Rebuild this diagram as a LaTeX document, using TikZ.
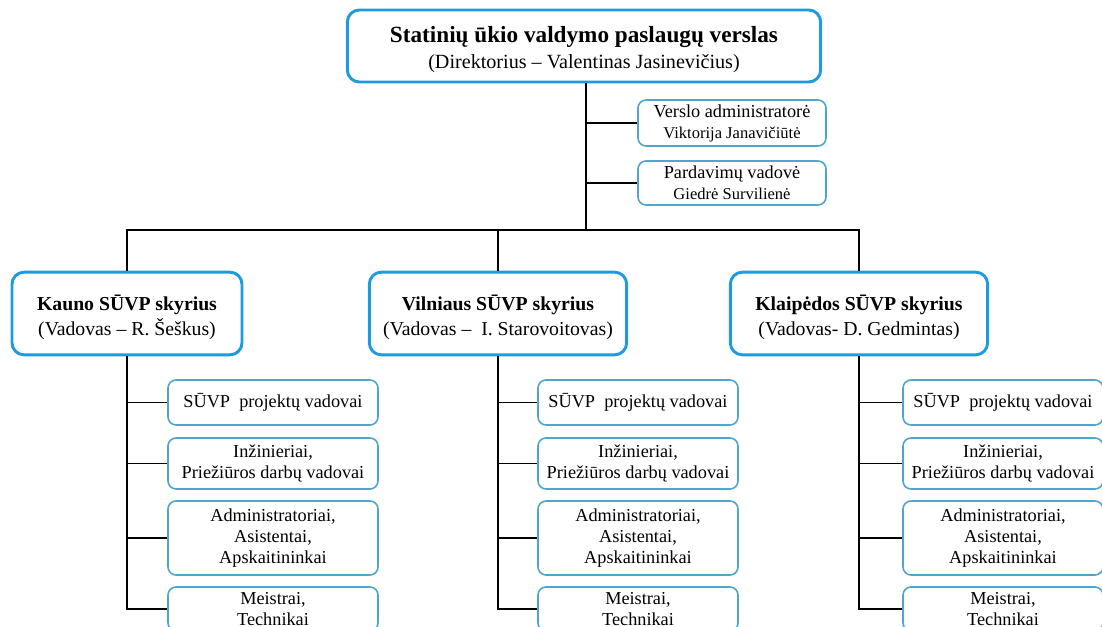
\documentclass[tikz,border=0pt]{standalone}
\usepackage{fontspec}
\setmainfont{Liberation Serif}
\definecolor{headblue}{RGB}{30,155,220}
\definecolor{unitblue}{RGB}{80,165,205}

\begin{document}
\begin{tikzpicture}[x=0.75pt,y=-0.75pt,
    headbox/.style={draw=headblue, line width=2.2pt, rounded corners=9pt,
      fill=white, align=center, inner sep=0pt},
    unitbox/.style={draw=unitblue, line width=1.2pt, rounded corners=6pt,
      fill=white, align=center, inner sep=0pt,
      font=\fontsize{13.7}{15.75}\selectfont},
    link/.style={draw=black, line width=1.1pt}]
    \useasboundingbox (0,0) rectangle (1102,627);
    \clip (0,0) rectangle (1102,627);

    % management
    \node[headbox, minimum width=355pt, minimum height=54pt,
      font=\fontsize{15.1}{19.5}\selectfont] (top) at (584,46)
    {\rule{0pt}{17pt}{\fontsize{17.4}{19.5}\selectfont\textbf{Statinių ūkio valdymo paslaugų verslas}}\\
     (Direktorius -- Valentinas Jasinevičius)};
    \node[unitbox, minimum width=141pt, minimum height=34.5pt] (admin) at (732,123)
    {Verslo administratorė\\ {\fontsize{12.4}{15}\selectfont Viktorija Janavičiūtė}};
    \node[unitbox, minimum width=141pt, minimum height=33pt] (sales) at (732,183)
    {Pardavimų vadovė\\ {\fontsize{12.4}{15}\selectfont Giedrė Survilienė}};

    % departments
    \node[headbox, minimum width=172.5pt, minimum height=62pt,
      font=\fontsize{14.8}{18.75}\selectfont] (kaunas) at (127,313.5)
    {\rule{0pt}{17.8pt}\textbf{Kauno SŪVP skyrius}\\(Vadovas -- R. Šeškus)};
    \node[headbox, minimum width=193pt, minimum height=62pt,
      font=\fontsize{14.8}{18.75}\selectfont] (vilnius) at (498,313.5)
    {\rule{0pt}{17.8pt}\textbf{Vilniaus SŪVP skyrius}\\(Vadovas --\ \ I. Starovoitovas)};
    \node[headbox, minimum width=193pt, minimum height=62pt,
      font=\fontsize{14.8}{18.75}\selectfont] (klaipeda) at (859,313.5)
    {\rule{0pt}{17.8pt}\textbf{Klaipėdos SŪVP skyrius}\\(Vadovas- D. Gedmintas)};

    % Kaunas units
    \node[unitbox, minimum width=157.5pt, minimum height=33.75pt] (ka1) at (273,402.5)
    {SŪVP\ \ projektų vadovai};
    \node[unitbox, minimum width=157.5pt, minimum height=38.25pt] (ka2) at (273,463.5)
    {Inžinieriai,\\Priežiūros darbų vadovai};
    \node[unitbox, minimum width=157.5pt, minimum height=55.5pt] (ka3) at (273,538)
    {Administratoriai,\\Asistentai,\\Apskaitininkai};
    \node[unitbox, minimum width=157.5pt, minimum height=33pt] (ka4) at (273,609)
    {Meistrai,\\Technikai};

    % Vilnius units
    \node[unitbox, minimum width=150pt, minimum height=33.75pt] (vi1) at (638,402.5)
    {SŪVP\ \ projektų vadovai};
    \node[unitbox, minimum width=150pt, minimum height=38.25pt] (vi2) at (638,463.5)
    {Inžinieriai,\\Priežiūros darbų vadovai};
    \node[unitbox, minimum width=150pt, minimum height=55.5pt] (vi3) at (638,538)
    {Administratoriai,\\Asistentai,\\Apskaitininkai};
    \node[unitbox, minimum width=150pt, minimum height=33pt] (vi4) at (638,609)
    {Meistrai,\\Technikai};

    % Klaipeda units
    \node[unitbox, minimum width=150pt, minimum height=33.75pt] (kl1) at (1003,402.5)
    {SŪVP\ \ projektų vadovai};
    \node[unitbox, minimum width=150pt, minimum height=38.25pt] (kl2) at (1003,463.5)
    {Inžinieriai,\\Priežiūros darbų vadovai};
    \node[unitbox, minimum width=150pt, minimum height=55.5pt] (kl3) at (1003,538)
    {Administratoriai,\\Asistentai,\\Apskaitininkai};
    \node[unitbox, minimum width=150pt, minimum height=33pt] (kl4) at (1003,609)
    {Meistrai,\\Technikai};

    % connectors
    \coordinate (bus) at (586,230);
    \draw[link] (top.south -| bus) -- (bus);
    \draw[link] (admin.west -| bus) -- (admin.west);
    \draw[link] (sales.west -| bus) -- (sales.west);
    \draw[link] (kaunas.north) |- (bus) -| (klaipeda.north);
    \draw[link] (vilnius.north) -- (vilnius.north |- bus);

    \draw[link] (kaunas.south) |- (ka4.west);
    \draw[link] (ka1.west -| kaunas.south) -- (ka1.west);
    \draw[link] (ka2.west -| kaunas.south) -- (ka2.west);
    \draw[link] (ka3.west -| kaunas.south) -- (ka3.west);

    \draw[link] (vilnius.south) |- (vi4.west);
    \draw[link] (vi1.west -| vilnius.south) -- (vi1.west);
    \draw[link] (vi2.west -| vilnius.south) -- (vi2.west);
    \draw[link] (vi3.west -| vilnius.south) -- (vi3.west);

    \draw[link] (klaipeda.south) |- (kl4.west);
    \draw[link] (kl1.west -| klaipeda.south) -- (kl1.west);
    \draw[link] (kl2.west -| klaipeda.south) -- (kl2.west);
    \draw[link] (kl3.west -| klaipeda.south) -- (kl3.west);
\end{tikzpicture}
\end{document}
